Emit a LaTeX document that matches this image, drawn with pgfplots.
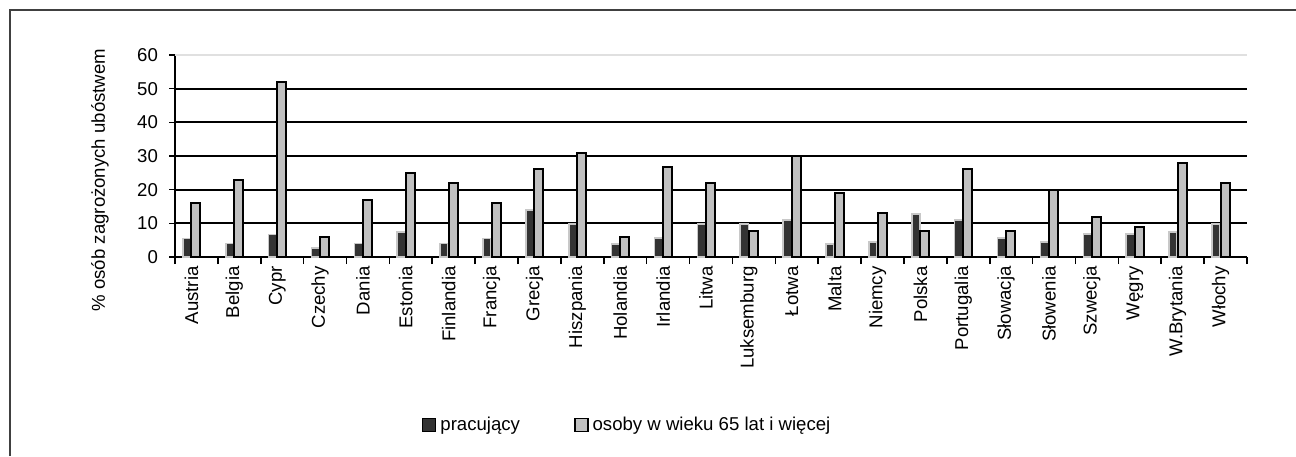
\documentclass[border=0pt]{standalone}
\usepackage{pgfplots}
\pgfplotsset{compat=1.18}
\usepackage{fontspec}
\setmainfont{Liberation Sans}
\definecolor{ciemny}{HTML}{333333}
\definecolor{jasny}{HTML}{C0C0C0}
\definecolor{cien}{HTML}{C8C8C8}
\newcommand{\fnt}{\fontsize{9.3}{11}\selectfont}

\pgfplotsset{
  kwadrat/.style={legend image code/.code={%
    \draw[##1, draw=black, line width=0.8pt] (0pt,-3.2pt) rectangle (6.5pt,3.2pt);}},
}

\begin{document}
\begin{tikzpicture}
\path[use as bounding box] (0,0) rectangle (648pt,228pt);
\draw[line width=1pt, color=black!75] (5pt,0) -- (5pt,223pt) -- (648pt,223pt);
\begin{axis}[
  at={(87.5pt,99.5pt)}, anchor=south west,
  scale only axis, width=536pt, height=101pt,
  xmin=-0.383, xmax=24.617,
  ymin=0, ymax=60,
  axis x line=bottom, axis y line=left,
  axis line style={-, line width=1pt},
  /pgf/number format/assume math mode=true,
  ytick={0,10,...,50},
  extra y ticks={60},
  extra y tick style={grid style={color=black!12, line width=1pt}},
  ymajorgrids,
  grid style={black, line width=1pt},
  ytick style={black, line width=0.8pt},
  major tick length=3pt,
  tick align=outside,
  xtick={0,...,24},
  xticklabels={Austria, Belgia, Cypr, Czechy, Dania, Estonia, Finlandia, Francja, Grecja, Hiszpania, Holandia, Irlandia, Litwa, Luksemburg, Łotwa, Malta, Niemcy, Polska, Portugalia, Słowacja, Słowenia, Szwecja, Węgry, W.Brytania, Włochy},
  major x tick style={draw=none},
  minor xtick={-0.383,0.617,...,24.617},
  minor tick length=3.5pt,
  minor x tick style={black, line width=0.8pt},
  xticklabel style={font=\fnt, rotate=90, anchor=east, inner sep=1.5pt},
  yticklabel style={font=\fnt, xshift=-2pt},
  ylabel={\% osób zagrożonych ubóstwem},
  ylabel style={font=\fnt, at={(axis description cs:-0.07,0.381)}, anchor=center},
  legend style={at={(axis description cs:0.4227,-0.832)}, anchor=center,
    draw=none, fill=none, font=\fnt, legend columns=2,
    /tikz/every even column/.append style={column sep=25pt}},
]
\addplot[ybar, bar width=0.19, bar shift=-0.105, fill=ciemny, draw=cien, line width=0.8pt, kwadrat] coordinates {
  (0,5.5)(1,4)(2,6.7)(3,2.7)(4,4)(5,7.5)(6,4)(7,5.5)(8,14)(9,9.8)
  (10,3.9)(11,5.6)(12,9.8)(13,9.8)(14,11)(15,3.9)(16,4.5)(17,12.8)(18,11)(19,5.6)
  (20,4.5)(21,6.8)(22,6.8)(23,7.4)(24,9.8)
};
\addplot[ybar, bar width=0.21, bar shift=0.105, fill=jasny, draw=black, line width=1pt, kwadrat] coordinates {
  (0,16)(1,23)(2,52)(3,5.8)(4,17)(5,25)(6,22)(7,16)(8,26)(9,30.8)
  (10,5.8)(11,26.6)(12,21.9)(13,7.6)(14,30)(15,18.9)(16,13)(17,7.6)(18,26)(19,7.6)
  (20,20)(21,11.8)(22,8.8)(23,27.8)(24,21.9)
};
\legend{pracujący, osoby w wieku 65 lat i więcej}
\end{axis}
\end{tikzpicture}
\end{document}
